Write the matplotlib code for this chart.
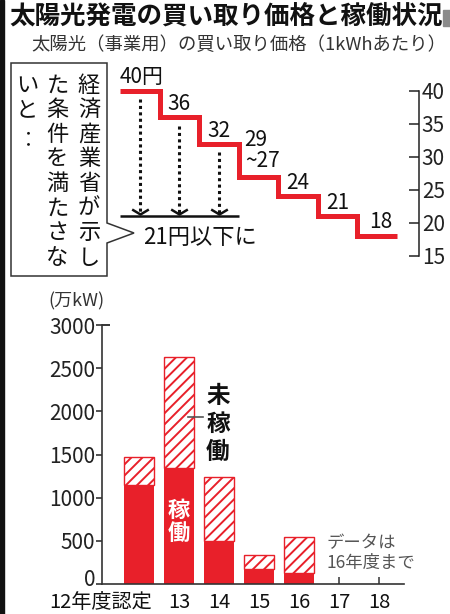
import matplotlib
matplotlib.use("Agg")
import matplotlib.pyplot as plt
import matplotlib.patches as mpatches
import matplotlib.transforms as mtransforms
from matplotlib.path import Path
import numpy as np

plt.rcParams['font.family'] = ['Noto Sans CJK JP', 'DejaVu Sans']
plt.rcParams['hatch.linewidth'] = 1.4

RED = '#e8202a'
W, H = 450, 614

# 買い取り価格 (円/kWh)
price_years = [12, 13, 14, 15, 16, 17, 18]
prices = [40, 36, 32, 27, 24, 21, 18]
price_labels = ['40円', '36', '32', '29\n~27', '24', '21', '18']
target_price = 21
target_years = [12, 13, 14]

# 認定量 (万kW)
years = ['12年度認定', '13', '14', '15', '16', '17', '18']
operating = np.array([1150, 1340, 500, 170, 125])
certified = np.array([1470, 2630, 1240, 340, 540])


def fxy(x, y):
    return x / W, 1 - y / H


def add_axes_px(l, t, r, b):
    return fig.add_axes([l / W, 1 - b / H, (r - l) / W, (b - t) / H])


def ptext(x, y, s, **kw):
    fx, fy = fxy(x, y)
    return fig.text(fx, fy, s, **kw)


fig = plt.figure(figsize=(4.5, 6.14), dpi=100)

# frame decorations
fig.patches.append(mpatches.Rectangle(fxy(0, H), 4 / W, 1, transform=fig.transFigure,
                                      color='#111111', zorder=0))
fig.patches.append(mpatches.Rectangle(fxy(443, 26), 7 / W, 16 / H, transform=fig.transFigure,
                                      color='#8a8a8a', zorder=0))

ptext(9, 16, '太陽光発電の買い取り価格と稼働状況', size=18.4, weight='bold', va='center', color='#111')
ptext(31, 45, '太陽光（事業用）の買い取り価格（1kWhあたり）', size=13.2, va='center', color='#333')

# ---- price steps ----
ax1 = add_axes_px(120, 90.7, 419, 256)
ax1.set_facecolor('none')
ax1.set_xlim(12, 19.556)
ax1.set_ylim(15, 40)
ax1.step(price_years + [price_years[-1] + 1], prices + [prices[-1]], where='post',
         color=RED, lw=3.6, solid_joinstyle='miter', solid_capstyle='butt', clip_on=False)
for s in ['left', 'top', 'bottom']:
    ax1.spines[s].set_visible(False)
ax1.spines['right'].set_bounds(15, 40)
ax1.spines['right'].set_linewidth(1.1)
ax1.spines['right'].set_color('#222')
ax1.yaxis.tick_right()
ax1.set_yticks([15, 20, 25, 30, 35, 40])
ax1.tick_params(axis='y', direction='in', length=7, width=1.1, pad=2, labelsize=15,
                colors='#222')
ax1.set_xticks([])

for yr, p, lab in zip(price_years, prices, price_labels):
    if yr == 12:
        ax1.annotate(lab, (yr, p), xytext=(0, 14), textcoords='offset pixels',
                     ha='left', va='center', size=15, color='#111')
    elif '\n' in lab:
        ax1.annotate(lab, (yr + 0.15, p), xytext=(0, 26), textcoords='offset pixels',
                     ha='left', va='center', size=15, color='#111', linespacing=0.95)
    elif yr == price_years[-1]:
        ax1.annotate(lab, (yr + 0.6, p), xytext=(0, 14), textcoords='offset pixels',
                     ha='center', va='center', size=15, color='#111')
    else:
        ax1.annotate(lab, (yr + 0.5, p), xytext=(0, 13), textcoords='offset pixels',
                     ha='center', va='center', size=15, color='#111')

chevron = Path([(-1, 0.6), (0, 0), (1, 0.6)], [Path.MOVETO, Path.LINETO, Path.LINETO])
for yr in target_years:
    p = prices[price_years.index(yr)]
    x0 = yr + 0.5
    ax1.plot([x0, x0], [p - 1.3, target_price + 0.5], color='#111', lw=2.2,
             linestyle=(0, (1, 1.1)), dash_capstyle='butt')
    ax1.plot([x0], [target_price + 0.3], marker=chevron, ms=12, mfc='none', mec='#111', mew=1.8)
ax1.hlines(target_price, target_years[0], target_years[-1] + 1, color='#111', lw=1.8)

ptext(143, 238, '21円以下に', size=16, va='center', color='#111')

# callout box
box_pts = [(11, 63), (107, 63), (107, 223), (134, 233), (107, 243), (107, 276), (11, 276)]
fig.patches.append(mpatches.Polygon([fxy(*p) for p in box_pts], closed=True,
                                    transform=fig.transFigure, fill=False,
                                    edgecolor='#333', lw=1.1))
columns = [(89, '経済産業省が示し'), (57.5, 'た条件を満たさな'), (27, 'いと‥')]
for cx, s in columns:
    for k, ch in enumerate(s):
        rot = 90 if ch == '‥' else 0
        ptext(cx, 85 + k * 24.6, ch, size=16, ha='center', va='center', color='#111',
              rotation=rot, rotation_mode='anchor')

# ---- certified capacity bars ----
ax2 = add_axes_px(102, 325, 404, 584)
ax2.set_facecolor('none')
ax2.set_xlim(-0.925, 6.625)
ax2.set_ylim(0, 3000)
x = np.arange(len(operating))
ax2.bar(x, operating, width=0.74, color=RED, lw=0)
ax2.bar(x, certified - operating, bottom=operating, width=0.74, facecolor='white',
        edgecolor=RED, hatch='///', lw=1.0)

for s in ['top', 'right']:
    ax2.spines[s].set_visible(False)
for s in ['left', 'bottom']:
    ax2.spines[s].set_linewidth(1.2)
    ax2.spines[s].set_color('#333')
ax2.set_yticks(np.arange(0, 3001, 500))
ax2.yaxis.remove_overlapping_locs = False
ax2.set_yticks([3000], minor=True)
ax2.tick_params(axis='y', which='major', direction='out', length=4, width=1.1, pad=1,
                labelsize=15, colors='#222')
ax2.tick_params(axis='y', which='minor', direction='in', length=6, width=1.1)
ax2.set_xticks([])
ax2.set_xticks(np.arange(len(operating), len(years)), minor=True)
ax2.tick_params(axis='x', which='minor', direction='in', length=5, width=1.1, color='#333')

# lift the "0" label a little so it clears the category labels
zero_lab = ax2.get_yticklabels()[0]
zero_lab.set_transform(zero_lab.get_transform() +
                       mtransforms.ScaledTranslation(0, 6 / 100, fig.dpi_scale_trans))

for i, lab in enumerate(years):
    if i == 0:
        ax2.annotate(lab, (i + 0.33, 0), xytext=(0, -18), textcoords='offset pixels',
                     ha='right', va='center', size=14.5, color='#111')
    else:
        ax2.annotate(lab, (i, 0), xytext=(0, -18), textcoords='offset pixels',
                     ha='center', va='center', size=14.5, color='#111')

ptext(48, 301, '(万kW)', size=13, va='center', color='#333')

ax2.text(1, 713, '稼\n働', color='white', weight='bold', size=16, ha='center',
         va='center', linespacing=1.0)
ax2.text(1.975, 1854, '未\n稼\n働', color='#111', weight='bold', size=17, ha='center',
         va='center', linespacing=1.2)
ax2.plot([1.225, 1.6], [1935, 1935], color='#555', lw=1.2)
ax2.text(4.7, 360, 'データは\n16年度まで', size=12.5, color='#555', ha='left',
         va='center', linespacing=1.1)

fig.savefig('out.png', dpi=100)
